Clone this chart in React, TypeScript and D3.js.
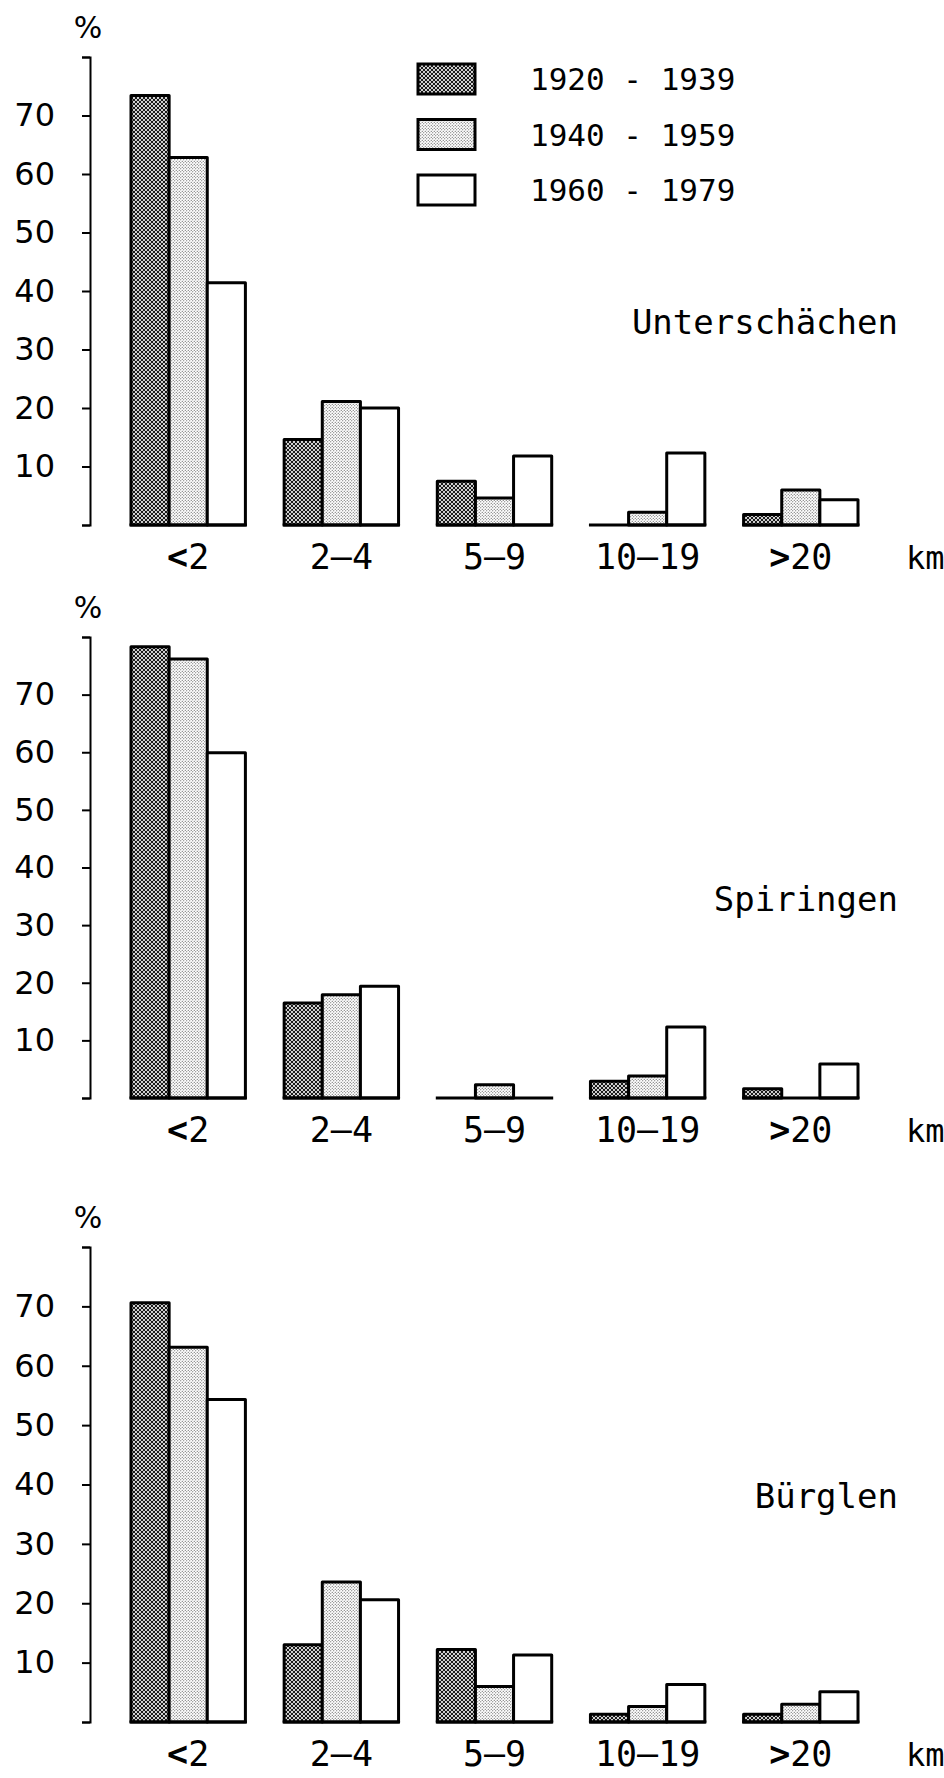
import React, { useEffect, useRef } from "react";
import * as d3 from "d3";

// distance classes (km) and the three periods
const categories = ["<2", "2–4", "5–9", "10–19", ">20"];
const periods = ["1920 - 1939", "1940 - 1959", "1960 - 1979"];
const yTicks = [0, 10, 20, 30, 40, 50, 60, 70, 80];

// values in %
const unterschaechen1920 = [73.4, 14.6, 7.5, 0, 1.8];
const unterschaechen1940 = [62.8, 21.1, 4.6, 2.2, 6.0];
const unterschaechen1960 = [41.4, 20.0, 11.8, 12.3, 4.3];

const spiringen1920 = [78.3, 16.5, 0, 2.9, 1.6];
const spiringen1940 = [76.2, 17.9, 2.3, 3.8, 0];
const spiringen1960 = [59.9, 19.4, 0, 12.3, 5.9];

const buerglen1920 = [70.6, 13.0, 12.2, 1.3, 1.3];
const buerglen1940 = [63.1, 23.6, 6.0, 2.6, 3.0];
const buerglen1960 = [54.3, 20.6, 11.3, 6.3, 5.1];

const panels = [
  { name: "Unterschächen", series: [unterschaechen1920, unterschaechen1940, unterschaechen1960], y0: 525, y1: 57, titleY: 334 },
  { name: "Spiringen", series: [spiringen1920, spiringen1940, spiringen1960], y0: 1098, y1: 637, titleY: 911 },
  { name: "Bürglen", series: [buerglen1920, buerglen1940, buerglen1960], y0: 1722, y1: 1247, titleY: 1508 },
];

const fills = ["url(#dark)", "url(#light)", "#fff"];
const mono = "'DejaVu Sans Mono', monospace";
const sans = "'DejaVu Sans', sans-serif";

const App = () => {
  const ref = useRef<SVGSVGElement>(null);

  useEffect(() => {
    const svg = d3.select(ref.current);
    svg.selectAll("*").remove();

    // screen patterns like the printed ones
    const defs = svg.append("defs");
    const dark = defs.append("pattern").attr("id", "dark").attr("patternUnits", "userSpaceOnUse")
      .attr("width", 4).attr("height", 4);
    dark.append("rect").attr("width", 4).attr("height", 4).attr("fill", "#1a1a1a");
    [[0, 0], [4, 0], [0, 4], [4, 4], [2, 2]].forEach(([cx, cy]) =>
      dark.append("circle").attr("cx", cx).attr("cy", cy).attr("r", 1.05).attr("fill", "#fff"));
    const light = defs.append("pattern").attr("id", "light").attr("patternUnits", "userSpaceOnUse")
      .attr("width", 3).attr("height", 3);
    light.append("rect").attr("width", 3).attr("height", 3).attr("fill", "#fff");
    [[0.75, 0.75], [2.25, 2.25]].forEach(([cx, cy]) =>
      light.append("circle").attr("cx", cx).attr("cy", cy).attr("r", 0.55).attr("fill", "#444"));

    const x0 = d3.scaleBand().domain(categories).range([131, 858]).paddingInner(0.253).paddingOuter(0);
    const x1 = d3.scaleBand().domain(periods).range([0, x0.bandwidth()]);

    panels.forEach((p) => {
      const y = d3.scaleLinear().domain([0, 80]).range([p.y0, p.y1]);
      const g = svg.append("g");

      const axis = g.append("g")
        .attr("transform", "translate(90,0)")
        .call(d3.axisLeft(y).tickValues(yTicks).tickSize(8).tickPadding(27)
          .tickFormat((d: any) => (d === 0 || d === 80 ? "" : String(d))));
      axis.select(".domain").attr("stroke", "#000").attr("stroke-width", 2);
      axis.selectAll(".tick line").attr("stroke", "#000").attr("stroke-width", 2);
      axis.selectAll(".tick text").attr("fill", "#000").style("font-family", sans).style("font-size", "32px");

      g.append("text").attr("x", 88).attr("y", p.y1 - 19).attr("text-anchor", "middle")
        .style("font-family", sans).style("font-size", "30px").text("%");

      const rows = p.series.flatMap((vals, si) =>
        vals.map((v, ci) => ({ cat: categories[ci], period: periods[si], v, si })));

      g.selectAll("rect.bar").data(rows.filter((d) => d.v > 0)).enter().append("rect")
        .attr("class", "bar")
        .attr("x", (d) => (x0(d.cat) as number) + (x1(d.period) as number))
        .attr("width", x1.bandwidth())
        .attr("y", (d) => y(d.v))
        .attr("height", (d) => y(0) - y(d.v))
        .attr("fill", (d) => fills[d.si])
        .attr("stroke", "#000")
        .attr("stroke-width", 3)
        .attr("stroke-linejoin", "round");

      // base line under each group (zero values show only as this line)
      g.selectAll("line.base").data(categories).enter().append("line")
        .attr("class", "base")
        .attr("x1", (d) => (x0(d) as number) - 1.5)
        .attr("x2", (d) => (x0(d) as number) + x0.bandwidth() + 1.5)
        .attr("y1", y(0)).attr("y2", y(0))
        .attr("stroke", "#000").attr("stroke-width", 3);

      const labels = g.selectAll("text.cat").data(categories).enter().append("text")
        .attr("class", "cat")
        .attr("x", (d) => (x0(d) as number) + x0.bandwidth() / 2)
        .attr("y", p.y0 + 44)
        .attr("text-anchor", "middle")
        .style("font-family", mono)
        .style("font-size", "35px");
      labels.each(function (d) {
        const t = d3.select(this);
        if (d[0] === "<" || d[0] === ">") {
          t.append("tspan").attr("font-weight", "bold").text(d[0]);
          t.append("tspan").text(d.slice(1));
        } else {
          t.text(d);
        }
      });

      g.append("text").attr("x", 906).attr("y", p.y0 + 44)
        .style("font-family", mono).style("font-size", "32px").text("km");

      g.append("text").attr("x", 898).attr("y", p.titleY).attr("text-anchor", "end")
        .style("font-family", mono).style("font-size", "34px").text(p.name);
    });

    // legend
    const legend = svg.append("g");
    periods.forEach((per, i) => {
      const top = 64 + i * 55.5;
      legend.append("rect").attr("x", 418).attr("y", top).attr("width", 57).attr("height", 30)
        .attr("fill", fills[i]).attr("stroke", "#000").attr("stroke-width", 3);
      legend.append("text").attr("x", 530).attr("y", top + 26)
        .style("font-family", mono).style("font-size", "31px").text(per);
    });
  }, []);

  return (
    <svg ref={ref} width={944} height={1778}
      style={{ position: "absolute", left: 0, top: 0, background: "#fff" }} />
  );
};

export default App;
